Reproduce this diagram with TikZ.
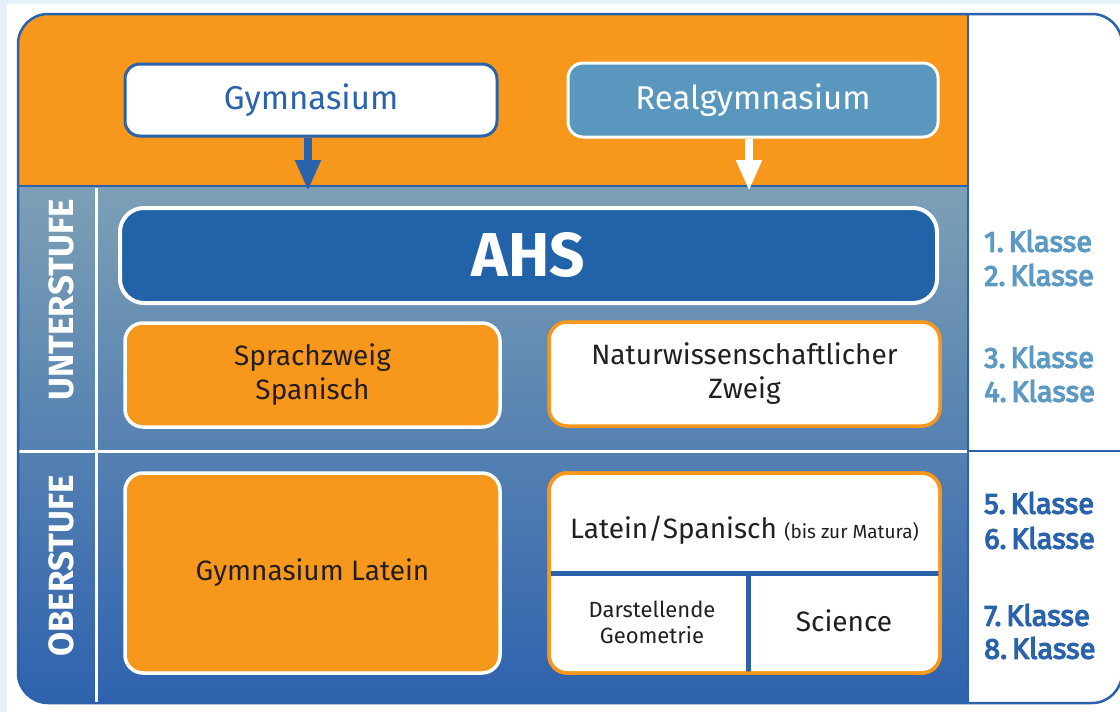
\documentclass[tikz,border=0pt]{standalone}
\usepackage{fontspec}
\setmainfont{Fira Sans}
\newfontfamily\semifont[FakeBold=4]{Fira Sans}
\usetikzlibrary{arrows.meta,calc}
\definecolor{orng}{HTML}{F7981D}
\definecolor{dblue}{HTML}{2A63AC}
\definecolor{ahsblue}{HTML}{2262A8}
\definecolor{rgblue}{HTML}{5A97BF}
\definecolor{lblue}{HTML}{5C9AC4}
\definecolor{gtop}{HTML}{7DA0B5}
\definecolor{gmid}{HTML}{4A88BD}
\definecolor{gbot}{HTML}{2E62AE}
\definecolor{txt}{HTML}{231F20}
\definecolor{bgl}{HTML}{E6F0FB}
\tikzset{
  rbox/.style={rectangle, rounded corners=18pt, align=center, inner sep=0pt, text=txt},
  obox/.style={rbox, fill=orng, draw=white, line width=3.5pt},
  wbox/.style={rbox, fill=white, draw=orng, line width=3.5pt},
  topbox/.style={rbox, rounded corners=15pt, line width=3pt, font=\fontsize{33}{38}\selectfont},
  boxtext/.style={font=\fontsize{28}{34}\selectfont},
  arr/.style={line width=8pt, -{Triangle[width=24pt,length=31pt]}},
  klasse/.style={anchor=west, font=\semifont\fontsize{29}{34}\selectfont, inner sep=0pt},
  stufe/.style={rotate=90, text=white, font=\bfseries\fontsize{35}{40}\selectfont, inner sep=0pt},
  divline/.style={draw=dblue, line width=5pt},
}
\begin{document}
\begin{tikzpicture}[x=1pt,y=-1pt]
\useasboundingbox (0,0) rectangle (1120,712);
\fill[white] (0,0) rectangle (1120,712);
\fill[bgl] (0,0) rectangle (7,712);
\fill[bgl] (0,0) rectangle (1120,4);

% frame interior
\begin{scope}
  \clip[rounded corners=30pt] (18,14) rectangle (1122,703);
  \fill[white] (18,14) rectangle (1122,703);
  \fill[orng] (18,14) rectangle (968,186);
  \shade[top color=gtop, middle color=gmid, bottom color=gbot] (18,186) rectangle (968,703);
  \draw[white, line width=3pt] (96,188) -- (96,703);
  \draw[white, line width=3pt] (18,451) -- (968,451);
  \draw[dblue, line width=2.5pt] (18,186) -- (968,186);
  \draw[dblue, line width=2.5pt] (968,451) -- (1122,451);
\end{scope}
\draw[dblue, line width=2.5pt] (968,14) -- (968,703);
\draw[dblue, line width=2.5pt, rounded corners=30pt] (18,14) rectangle (1122,703);

% top boxes
\node[topbox, fill=white, draw=dblue, text=dblue, minimum width=372pt, minimum height=72pt] (gym) at (311,100) {Gymnasium};
\node[topbox, fill=rgblue, draw=white, text=white, minimum width=370pt, minimum height=74pt] (rg) at (753,100) {Realgymnasium};

% AHS
\node[rbox, rounded corners=24pt, fill=ahsblue, draw=white, line width=4pt, text=white,
      minimum width=817pt, minimum height=95pt, font=\bfseries\fontsize{62}{70}\selectfont] (ahs) at (528.5,255.5) {AHS};

% arrows
\coordinate (ga) at (308,150);
\coordinate (ra) at (749,150);
\draw[arr, dblue, shorten >=15pt] (gym.south -| ga) -- (ahs.north -| ga);
\draw[arr, white, shorten >=15pt] (rg.south -| ra) -- (ahs.north -| ra);

% Unterstufe boxes
\node[obox, boxtext, minimum width=375pt, minimum height=104pt] (sprach) at (312.5,375) {Sprachzweig\\Spanisch};
\node[wbox, boxtext, minimum width=391pt, minimum height=104pt] (natur) at (744.5,374) {Naturwissenschaftlicher\\Zweig};

% Oberstufe boxes
\node[obox, boxtext, minimum width=375pt, minimum height=200pt] (latein) at (312.5,573) {Gymnasium Latein};
\node[wbox, minimum width=391pt, minimum height=200pt] (ls) at (744.5,573) {};
\draw[divline, shorten <=2pt, shorten >=2pt] (ls.west) -- (ls.east);
\draw[divline, shorten >=2pt] ([xshift=3.5pt]ls.center) -- ([xshift=3.5pt]ls.south);
\node[wbox, fill=none, minimum width=391pt, minimum height=200pt] (lsframe) at (ls.center) {};
\node[boxtext, text=txt] (lsp) at (744.5,530) {Latein/Spanisch {\fontsize{19}{22}\selectfont (bis zur Matura)}};
\node[text=txt, align=center, font=\fontsize{22}{26}\selectfont] (dg) at (652,622) {Darstellende\\Geometrie};
\node[boxtext, text=txt] (sci) at (844,621) {Science};

% Stufe labels
\node[stufe] (unter) at (61,300) {UNTERSTUFE};
\node[stufe] (ober) at (61,566) {OBERSTUFE};

% Klasse labels
\node[klasse, text=lblue] (k1) at (984,241) {1.\,Klasse};
\node[klasse, text=lblue] (k2) at (984,275) {2.\,Klasse};
\node[klasse, text=lblue] (k3) at (984,357) {3.\,Klasse};
\node[klasse, text=lblue] (k4) at (984,391) {4.\,Klasse};
\node[klasse, text=dblue] (k5) at (984,503) {5.\,Klasse};
\node[klasse, text=dblue] (k6) at (984,538) {6.\,Klasse};
\node[klasse, text=dblue] (k7) at (984,615) {7.\,Klasse};
\node[klasse, text=dblue] (k8) at (984,648) {8.\,Klasse};
\end{tikzpicture}
\end{document}
